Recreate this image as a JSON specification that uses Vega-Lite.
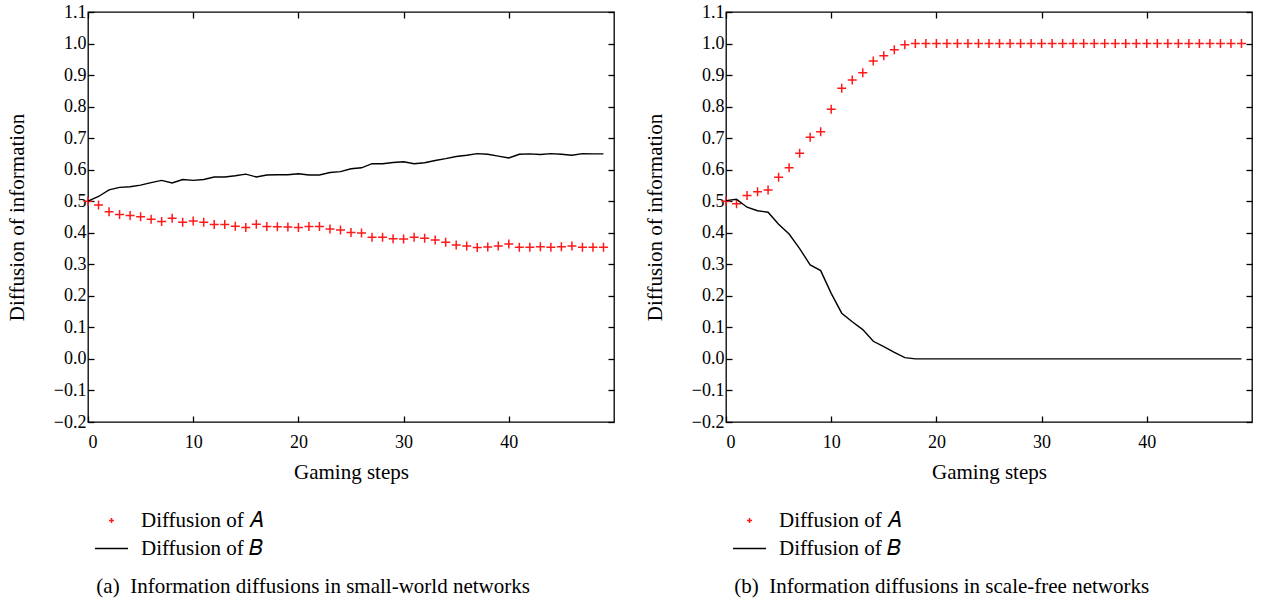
{
"$schema": "https://vega.github.io/schema/vega-lite/v6.json",
"background": "white",
"padding": {"left": 5, "top": 2, "right": 3, "bottom": 3},
"config": {
  "font": "Liberation Serif",
  "view": {"stroke": "black", "strokeWidth": 1.3},
  "axis": {"grid": false, "domain": false, "tickSize": -6, "tickColor": "black", "tickWidth": 1.3, "labelFont": "Liberation Serif", "labelFontSize": 18, "labelColor": "black", "titleFont": "Liberation Serif", "titleFontSize": 21, "titleFontWeight": "normal", "titleColor": "black"},
  "legend": {"orient": "none", "legendX": 6, "legendY": 491, "padding": 0, "labelFont": "Liberation Serif", "labelFontSize": 21, "labelColor": "black", "symbolSize": 1089, "symbolStrokeWidth": 1.5, "labelOffset": 12, "rowPadding": -9},
  "title": {"font": "Liberation Serif", "fontSize": 21, "fontWeight": "normal", "color": "black"}
},
"datasets": {
  "sw": [
    {"step":0,"A":0.5,"B":0.5},{"step":1,"A":0.488,"B":0.515},{"step":2,"A":0.467,"B":0.536},{"step":3,"A":0.458,"B":0.544},{"step":4,"A":0.455,"B":0.546},
    {"step":5,"A":0.451,"B":0.551},{"step":6,"A":0.443,"B":0.559},{"step":7,"A":0.436,"B":0.566},{"step":8,"A":0.446,"B":0.558},{"step":9,"A":0.433,"B":0.569},
    {"step":10,"A":0.437,"B":0.566},{"step":11,"A":0.433,"B":0.569},{"step":12,"A":0.426,"B":0.577},{"step":13,"A":0.426,"B":0.577},{"step":14,"A":0.421,"B":0.581},
    {"step":15,"A":0.417,"B":0.586},{"step":16,"A":0.427,"B":0.577},{"step":17,"A":0.42,"B":0.583},{"step":18,"A":0.419,"B":0.584},{"step":19,"A":0.418,"B":0.584},
    {"step":20,"A":0.417,"B":0.587},{"step":21,"A":0.42,"B":0.583},{"step":22,"A":0.42,"B":0.583},{"step":23,"A":0.412,"B":0.591},{"step":24,"A":0.409,"B":0.594},
    {"step":25,"A":0.401,"B":0.603},{"step":26,"A":0.399,"B":0.606},{"step":27,"A":0.386,"B":0.619},{"step":28,"A":0.386,"B":0.619},{"step":29,"A":0.381,"B":0.623},
    {"step":30,"A":0.38,"B":0.625},{"step":31,"A":0.386,"B":0.619},{"step":32,"A":0.383,"B":0.622},{"step":33,"A":0.377,"B":0.629},{"step":34,"A":0.37,"B":0.635},
    {"step":35,"A":0.361,"B":0.642},{"step":36,"A":0.358,"B":0.646},{"step":37,"A":0.353,"B":0.651},{"step":38,"A":0.355,"B":0.649},{"step":39,"A":0.358,"B":0.643},
    {"step":40,"A":0.364,"B":0.637},{"step":41,"A":0.354,"B":0.649},{"step":42,"A":0.354,"B":0.65},{"step":43,"A":0.356,"B":0.648},{"step":44,"A":0.354,"B":0.651},
    {"step":45,"A":0.356,"B":0.649},{"step":46,"A":0.358,"B":0.646},{"step":47,"A":0.354,"B":0.651},{"step":48,"A":0.354,"B":0.65},{"step":49,"A":0.354,"B":0.65}
  ],
  "sf": [
    {"step":0,"A":0.5,"B":0.502},{"step":1,"A":0.492,"B":0.506},{"step":2,"A":0.518,"B":0.481},{"step":3,"A":0.53,"B":0.47},{"step":4,"A":0.536,"B":0.465},
    {"step":5,"A":0.576,"B":0.427},{"step":6,"A":0.606,"B":0.396},{"step":7,"A":0.652,"B":0.35},{"step":8,"A":0.703,"B":0.298},{"step":9,"A":0.72,"B":0.28},
    {"step":10,"A":0.792,"B":0.208},{"step":11,"A":0.858,"B":0.145},{"step":12,"A":0.884,"B":0.118},{"step":13,"A":0.907,"B":0.093},{"step":14,"A":0.945,"B":0.056},
    {"step":15,"A":0.961,"B":0.039},{"step":16,"A":0.98,"B":0.021},{"step":17,"A":0.996,"B":0.004},{"step":18,"A":1.0,"B":0.0},{"step":19,"A":1.0,"B":0.0},
    {"step":20,"A":1.0,"B":0.0},{"step":21,"A":1.0,"B":0.0},{"step":22,"A":1.0,"B":0.0},{"step":23,"A":1.0,"B":0.0},{"step":24,"A":1.0,"B":0.0},
    {"step":25,"A":1.0,"B":0.0},{"step":26,"A":1.0,"B":0.0},{"step":27,"A":1.0,"B":0.0},{"step":28,"A":1.0,"B":0.0},{"step":29,"A":1.0,"B":0.0},
    {"step":30,"A":1.0,"B":0.0},{"step":31,"A":1.0,"B":0.0},{"step":32,"A":1.0,"B":0.0},{"step":33,"A":1.0,"B":0.0},{"step":34,"A":1.0,"B":0.0},
    {"step":35,"A":1.0,"B":0.0},{"step":36,"A":1.0,"B":0.0},{"step":37,"A":1.0,"B":0.0},{"step":38,"A":1.0,"B":0.0},{"step":39,"A":1.0,"B":0.0},
    {"step":40,"A":1.0,"B":0.0},{"step":41,"A":1.0,"B":0.0},{"step":42,"A":1.0,"B":0.0},{"step":43,"A":1.0,"B":0.0},{"step":44,"A":1.0,"B":0.0},
    {"step":45,"A":1.0,"B":0.0},{"step":46,"A":1.0,"B":0.0},{"step":47,"A":1.0,"B":0.0},{"step":48,"A":1.0,"B":0.0},{"step":49,"A":1.0,"B":0.0}
  ]
},
"spacing": 27,
"resolve": {"scale": {"color": "independent", "shape": "independent"}, "legend": {"color": "independent", "shape": "independent"}},
"hconcat": [
  {
    "width": 526, "height": 410,
    "data": {"name": "sw"},
    "transform": [{"fold": ["A", "B"], "as": ["series", "value"]}],
    "title": {"text": "(a)\u2002Information diffusions in small-world networks", "orient": "bottom", "anchor": "start", "offset": 17, "dx": 90},
    "layer": [
      {
        "transform": [{"filter": "datum.series == 'A'"}],
        "mark": {"type": "point", "filled": false, "size": 3600, "strokeWidth": 1.5, "opacity": 1},
        "encoding": {
          "x": {"field": "step", "type": "quantitative", "scale": {"domain": [0, 50], "nice": false}, "axis": {"orient": "bottom", "values": [0, 10, 20, 30, 40], "format": "d", "title": "Gaming steps", "labelPadding": 17, "titlePadding": 10}},
          "y": {"field": "value", "type": "quantitative", "scale": {"domain": [-0.2, 1.1], "nice": false, "zero": false}, "axis": {"orient": "left", "values": [-0.2, -0.1, 0, 0.1, 0.2, 0.3, 0.4, 0.5, 0.6, 0.7, 0.8, 0.9, 1.0, 1.1], "format": ".1f", "title": "Diffusion of information", "labelPadding": 8, "titlePadding": 26}},
          "color": {"field": "series", "type": "nominal", "scale": {"domain": ["A", "B"], "range": ["#ff1a1a", "#000000"]}, "legend": {"title": null, "labelExpr": "'Diffusion of ' + (datum.label == 'A' ? '𝐴' : '𝐵')"}},
          "shape": {"field": "series", "type": "nominal", "scale": {"domain": ["A", "B"], "range": ["M-0.15,0H0.15M0,-0.15V0.15", "stroke"]}, "legend": {"title": null, "labelExpr": "'Diffusion of ' + (datum.label == 'A' ? '𝐴' : '𝐵')"}}
        }
      },
      {
        "transform": [{"filter": "datum.series == 'B'"}],
        "mark": {"type": "line", "color": "black", "strokeWidth": 1.4},
        "encoding": {
          "x": {"field": "step", "type": "quantitative", "axis": {"orient": "top", "values": [0, 10, 20, 30, 40], "labels": false, "title": null}},
          "y": {"field": "value", "type": "quantitative", "axis": {"orient": "right", "values": [-0.2, -0.1, 0, 0.1, 0.2, 0.3, 0.4, 0.5, 0.6, 0.7, 0.8, 0.9, 1.0, 1.1], "labels": false, "title": null}}
        }
      }
    ],
    "resolve": {"axis": {"x": "independent", "y": "independent"}}
  },
  {
    "width": 526, "height": 410,
    "data": {"name": "sf"},
    "transform": [{"fold": ["A", "B"], "as": ["series", "value"]}],
    "title": {"text": "(b)\u2002Information diffusions in scale-free networks", "orient": "bottom", "anchor": "start", "offset": 17, "dx": 90},
    "layer": [
      {
        "transform": [{"filter": "datum.series == 'A'"}],
        "mark": {"type": "point", "filled": false, "size": 3600, "strokeWidth": 1.5, "opacity": 1},
        "encoding": {
          "x": {"field": "step", "type": "quantitative", "scale": {"domain": [0, 50], "nice": false}, "axis": {"orient": "bottom", "values": [0, 10, 20, 30, 40], "format": "d", "title": "Gaming steps", "labelPadding": 17, "titlePadding": 10}},
          "y": {"field": "value", "type": "quantitative", "scale": {"domain": [-0.2, 1.1], "nice": false, "zero": false}, "axis": {"orient": "left", "values": [-0.2, -0.1, 0, 0.1, 0.2, 0.3, 0.4, 0.5, 0.6, 0.7, 0.8, 0.9, 1.0, 1.1], "format": ".1f", "title": "Diffusion of information", "labelPadding": 8, "titlePadding": 26}},
          "color": {"field": "series", "type": "nominal", "scale": {"domain": ["A", "B"], "range": ["#ff1a1a", "#000000"]}, "legend": {"title": null, "labelExpr": "'Diffusion of ' + (datum.label == 'A' ? '𝐴' : '𝐵')"}},
          "shape": {"field": "series", "type": "nominal", "scale": {"domain": ["A", "B"], "range": ["M-0.15,0H0.15M0,-0.15V0.15", "stroke"]}, "legend": {"title": null, "labelExpr": "'Diffusion of ' + (datum.label == 'A' ? '𝐴' : '𝐵')"}}
        }
      },
      {
        "transform": [{"filter": "datum.series == 'B'"}],
        "mark": {"type": "line", "color": "black", "strokeWidth": 1.4},
        "encoding": {
          "x": {"field": "step", "type": "quantitative", "axis": {"orient": "top", "values": [0, 10, 20, 30, 40], "labels": false, "title": null}},
          "y": {"field": "value", "type": "quantitative", "axis": {"orient": "right", "values": [-0.2, -0.1, 0, 0.1, 0.2, 0.3, 0.4, 0.5, 0.6, 0.7, 0.8, 0.9, 1.0, 1.1], "labels": false, "title": null}}
        }
      }
    ],
    "resolve": {"axis": {"x": "independent", "y": "independent"}}
  }
]
}
